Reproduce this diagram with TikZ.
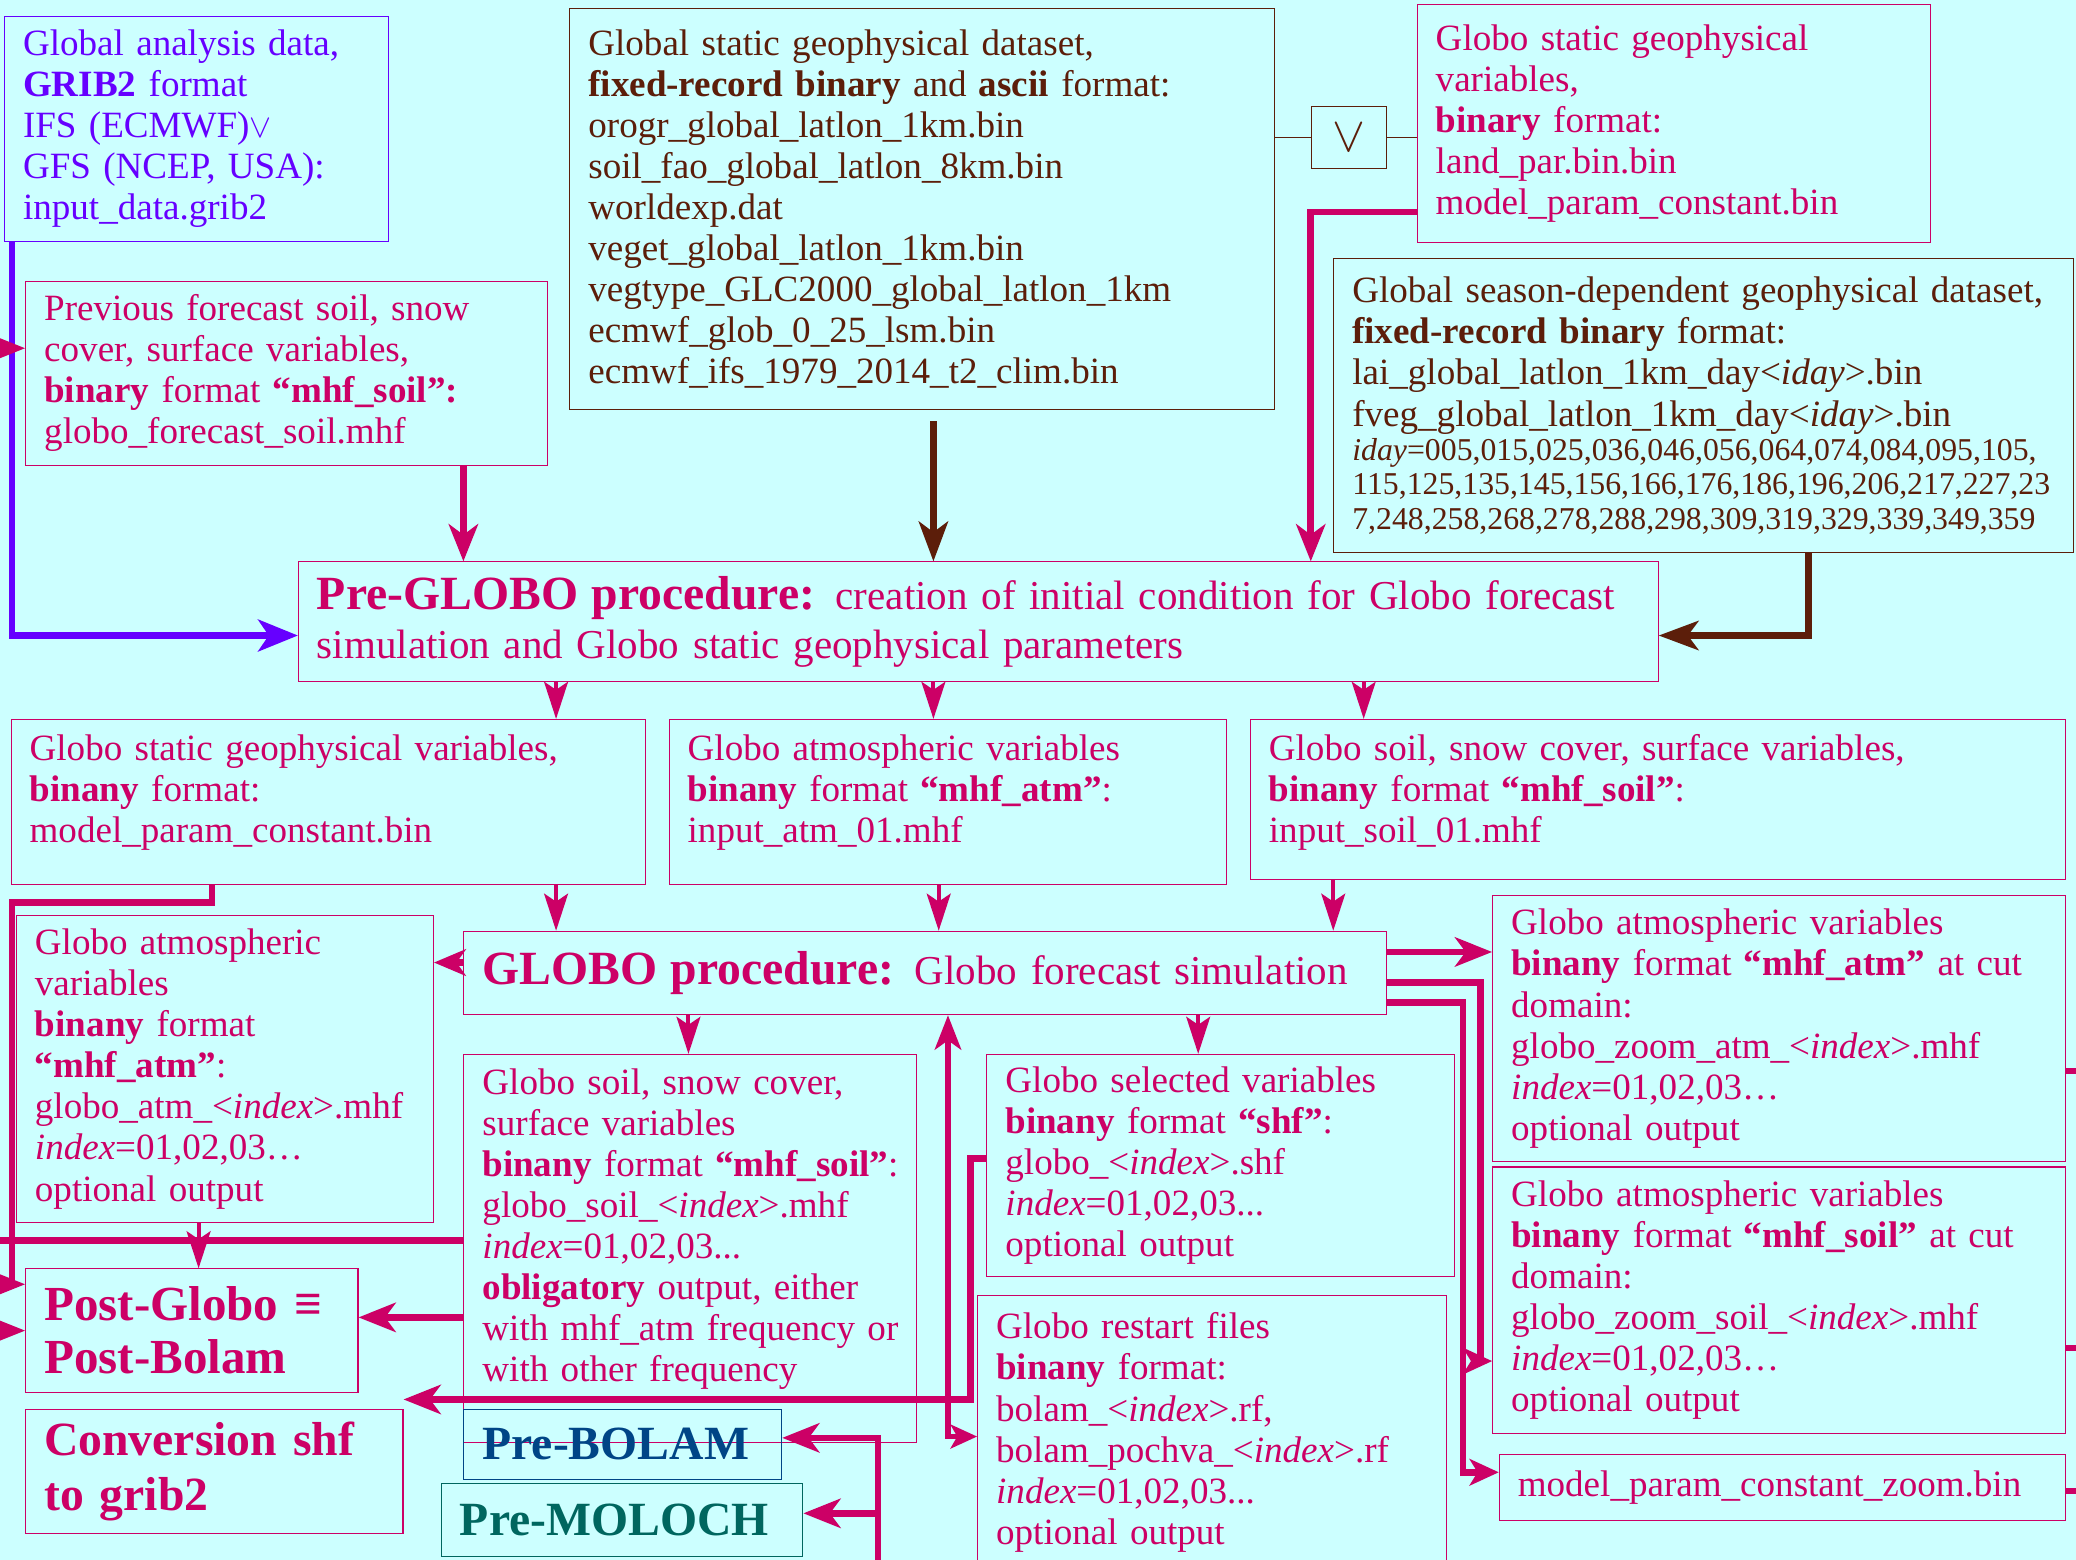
\documentclass[tikz,border=0pt]{standalone}
\usepackage{fontspec}
\setmainfont{Liberation Serif}
\usetikzlibrary{arrows.meta}
\setlength{\parindent}{0pt}
\definecolor{gbg}{HTML}{CCFFFF}
\definecolor{grose}{HTML}{CC0066}
\definecolor{gviolet}{HTML}{6600FF}
\definecolor{gbrown}{HTML}{5C1E0A}
\definecolor{gnavy}{HTML}{004586}
\definecolor{gteal}{HTML}{00665F}
\tikzset{
  box/.style={draw, line width=0.8pt, anchor=north west, align=left, inner xsep=14pt, inner ysep=0pt, font=\fontsize{28}{31}\selectfont},
  rosebox/.style={box, draw=grose, text=grose},
  brownbox/.style={box, draw=gbrown, text=gbrown},
  plink/.style={grose, line width=5pt, -{Stealth[length=28pt,width=22pt,inset=8pt]}},
  shortlink/.style={plink, -{Stealth[length=22pt,width=20pt,inset=6pt]}},
  slink/.style={grose, line width=3pt, -{Stealth[length=28pt,width=18pt,inset=6pt]}},
  blink/.style={gbrown, line width=5pt, -{Stealth[length=30pt,width=22pt,inset=8pt]}},
  vlink/.style={gviolet, line width=5pt, -{Stealth[length=30pt,width=24pt,inset=8pt]}}
}
\begin{document}
\begin{tikzpicture}[x=1pt,y=-1pt]
\fill[gbg] (0,0) rectangle (1568,1178);
\useasboundingbox (0,0) rectangle (1568,1178);
% inputs
\node[box, draw=gviolet, text=gviolet, minimum width=290pt, minimum height=170pt, text width=262pt] (ana) at (3,12)
 {Global analysis data,\\ \textbf{GRIB2} format\\ IFS (ECMWF)$\vee$\\ GFS (NCEP, USA):\\ input\_data.grib2};
\node[brownbox, minimum width=532pt, minimum height=303pt, text width=504pt] (stat) at (430,6)
 {Global static geophysical dataset,\\ \textbf{fixed-record binary} and \textbf{ascii} format:\\ orogr\_global\_latlon\_1km.bin\\ soil\_fao\_global\_latlon\_8km.bin\\ worldexp.dat\\ veget\_global\_latlon\_1km.bin\\ vegtype\_GLC2000\_global\_latlon\_1km\\ ecmwf\_glob\_0\_25\_lsm.bin\\ ecmwf\_ifs\_1979\_2014\_t2\_clim.bin};
\node[brownbox, inner xsep=0pt, minimum width=57pt, minimum height=47pt] (orbox) at (990,80) {\scalebox{1.5}{$\vee$}};
\node[rosebox, minimum width=388pt, minimum height=180pt, text width=360pt] (land) at (1070,3)
 {Globo static geophysical\\ variables,\\ \textbf{binary} format:\\ land\_par.bin.bin\\ model\_param\_constant.bin};
\node[brownbox, minimum width=559pt, minimum height=222pt, text width=531pt] (seas) at (1007,195)
 {Global season-dependent geophysical dataset,\\ \textbf{fixed-record binary} format:\\ lai\_global\_latlon\_1km\_day<\textit{iday}>.bin\\ fveg\_global\_latlon\_1km\_day<\textit{iday}>.bin\par
 {\fontsize{24}{26}\selectfont \mbox{\textit{iday}=005,015,025,036,046,056,064,074,084,095,105,}\\ \mbox{115,125,135,145,156,166,176,186,196,206,217,227,23}\\ \mbox{7,248,258,268,278,288,298,309,319,329,339,349,359}\par}};
\node[rosebox, minimum width=394pt, minimum height=139pt, text width=366pt] (prev) at (19,212)
 {Previous forecast soil, snow\\ cover, surface variables,\\ \textbf{binary} format \textbf{“mhf\_soil”:}\\ globo\_forecast\_soil.mhf};
% pre-globo
\node[rosebox, font=\fontsize{31}{37}\selectfont, minimum width=1027pt, minimum height=90pt, text width=999pt] (pre) at (225,424)
 {\mbox{\textbf{\fontsize{36}{37}\selectfont Pre-GLOBO procedure:} creation of initial condition for Globo forecast}\\ simulation and Globo static geophysical parameters};
\node[rosebox, minimum width=479pt, minimum height=125pt, text width=451pt] (m1) at (8,543)
 {Globo static geophysical variables,\\ \textbf{binany} format:\\ model\_param\_constant.bin\par\vspace{15pt}};
\node[rosebox, minimum width=421pt, minimum height=125pt, text width=393pt] (m2) at (505,543)
 {Globo atmospheric variables\\ \textbf{binany} format \textbf{“mhf\_atm”}:\\ input\_atm\_01.mhf\par\vspace{15pt}};
\node[rosebox, minimum width=616pt, minimum height=121pt, text width=588pt] (m3) at (944,543)
 {Globo soil, snow cover, surface variables,\\ \textbf{binany} format \textbf{“mhf\_soil”}:\\ input\_soil\_01.mhf\par\vspace{11pt}};
% globo
\node[rosebox, font=\fontsize{31}{37}\selectfont, minimum width=697pt, minimum height=63pt, text width=669pt] (glo) at (350,703)
 {\mbox{\textbf{\fontsize{36}{37}\selectfont GLOBO procedure:} Globo forecast simulation}};
\node[rosebox, minimum width=315pt, minimum height=232pt, text width=287pt] (atm) at (12,691)
 {Globo atmospheric\\ variables\\ \textbf{binany} format\\ \textbf{“mhf\_atm”}:\\ \mbox{globo\_atm\_<\textit{index}>.mhf}\\ \textit{index}=01,02,03…\\ optional output};
\node[rosebox, minimum width=342pt, minimum height=293pt, text width=314pt] (soil) at (350,796)
 {Globo soil, snow cover,\\ surface variables\\ \mbox{\textbf{binany} format \textbf{“mhf\_soil”}:}\\ globo\_soil\_<\textit{index}>.mhf\\ \textit{index}=01,02,03...\\ \mbox{\textbf{obligatory} output, either}\\ \mbox{with mhf\_atm frequency or}\\ with other frequency\par\vspace{29pt}};
\node[rosebox, minimum width=353pt, minimum height=168pt, text width=325pt] (shf) at (745,796)
 {Globo selected variables\\ \textbf{binany} format \textbf{“shf”}:\\ globo\_<\textit{index}>.shf\\ \textit{index}=01,02,03...\\ optional output};
\node[rosebox, minimum width=354pt, minimum height=207pt, text width=326pt] (rf) at (738,978)
 {Globo restart files\\ \textbf{binany} format:\\ bolam\_<\textit{index}>.rf,\\ \mbox{bolam\_pochva\_<\textit{index}>.rf}\\ \textit{index}=01,02,03...\\ optional output};
\node[rosebox, minimum width=433pt, minimum height=201pt, text width=405pt] (zatm) at (1127,676)
 {Globo atmospheric variables\\ \mbox{\textbf{binany} format \textbf{“mhf\_atm”} at cut}\\ domain:\\ globo\_zoom\_atm\_<\textit{index}>.mhf\\ \textit{index}=01,02,03…\\ optional output};
\node[rosebox, minimum width=433pt, minimum height=201pt, text width=405pt] (zsoil) at (1127,881)
 {Globo atmospheric variables\\ \mbox{\textbf{binany} format \textbf{“mhf\_soil”} at cut}\\ domain:\\ globo\_zoom\_soil\_<\textit{index}>.mhf\\ \textit{index}=01,02,03…\\ optional output};
\node[rosebox, minimum width=428pt, minimum height=50pt, text width=400pt] (zbin) at (1132,1098)
 {model\_param\_constant\_zoom.bin};
% post
\node[rosebox, font=\fontsize{37}{40}\selectfont\bfseries, minimum width=251pt, minimum height=93pt, text width=223pt] (post) at (19,958)
 {Post-Globo ≡\\ Post-Bolam};
\node[rosebox, font=\fontsize{36}{41}\selectfont\bfseries, minimum width=285pt, minimum height=94pt, text width=257pt] (conv) at (19,1064)
 {Conversion shf\\ to grib2};
\node[box, draw=gnavy, text=gnavy, font=\fontsize{36}{40}\selectfont\bfseries, minimum width=240pt, minimum height=53pt, text width=212pt] (pbol) at (350,1064) {Pre-BOLAM};
\node[box, draw=gteal, text=gteal, font=\fontsize{36}{40}\selectfont\bfseries, minimum width=273pt, minimum height=55pt, text width=245pt] (pmol) at (333,1120) {Pre-MOLOCH};
% free ends
\coordinate (statout) at (705,318);
\coordinate (edgeA) at (-6,263);
\coordinate (edgeB) at (-6,937);
\coordinate (edgeC) at (-6,1005);
\coordinate (edgeD) at (663,1190);
% links into pre-globo
\draw[gbrown, line width=0.6pt] (stat.east |- orbox.west) -- (orbox.west) (orbox.east) -- (land.west |- orbox.east);
\draw[vlink] (ana.south -| 9,0) |- (pre.west |- 0,480);
\draw[plink] (prev.south -| 350,0) -- (pre.north -| 350,0);
\draw[blink] (statout) -- (pre.north -| statout);
\draw[plink] (land.west |- 0,160) -| (pre.north -| 990,0);
\draw[blink] (seas.south -| 1366,0) |- (pre.east |- 0,480);
\draw[plink] (edgeA) -- (prev.west |- edgeA);
\foreach \x/\n in {420/m1,705/m2,1030/m3} \draw[slink] (pre.south -| \x,0) -- (\n.north -| \x,0);
\foreach \x/\n in {420/m1,709/m2,1007/m3} \draw[slink] (\n.south -| \x,0) -- (glo.north -| \x,0);
% links out of globo
\draw[plink] (m1.south -| 160,0) -- ++(0,13) -| (9,970) -- (post.west |- 0,970);
\draw[plink, -{Stealth[length=24pt,width=20pt,inset=7pt]}] (glo.west |- 0,727) -- (atm.east |- 0,727);
\draw[slink] (atm.south -| 150,0) -- (post.north -| 150,0);
\draw[slink] (glo.south -| 520,0) -- (soil.north -| 520,0);
\draw[slink] (glo.south -| 905,0) -- (shf.north -| 905,0);
\draw[plink, line width=4pt, {Stealth[length=26pt,width=20pt,inset=7pt]}-{Stealth[length=20pt,width=18pt,inset=5pt]}] (glo.south -| 716,0) |- (rf.west |- 0,1085);
\draw[plink] (shf.west |- 0,875) -| (733,1057) -- (conv.north east |- 0,1057);
\draw[plink, -] (soil.west |- edgeB) -- (edgeB);
\draw[plink] (soil.west |- 0,995) -- (post.east |- 0,995);
\draw[plink] (edgeC) -- (post.west |- edgeC);
\draw[plink] (glo.east |- 0,719) -- (zatm.west |- 0,719);
\draw[shortlink] (glo.east |- 0,742) -| (1118,1028) -- (zsoil.west |- 0,1028);
\draw[shortlink] (glo.east |- 0,757) -| (1105,1112) -- (zbin.west |- 0,1112);
\foreach \n/\y in {zatm/809,zsoil/1018,zbin/1126} \draw[plink, -] (\n.east |- 0,\y) -- ++(12,0);
\draw[plink] (edgeD) |- (pbol.east |- 0,1086);
\draw[plink] (edgeD |- 0,1143) -- (pmol.east |- 0,1143);
\end{tikzpicture}
\end{document}
